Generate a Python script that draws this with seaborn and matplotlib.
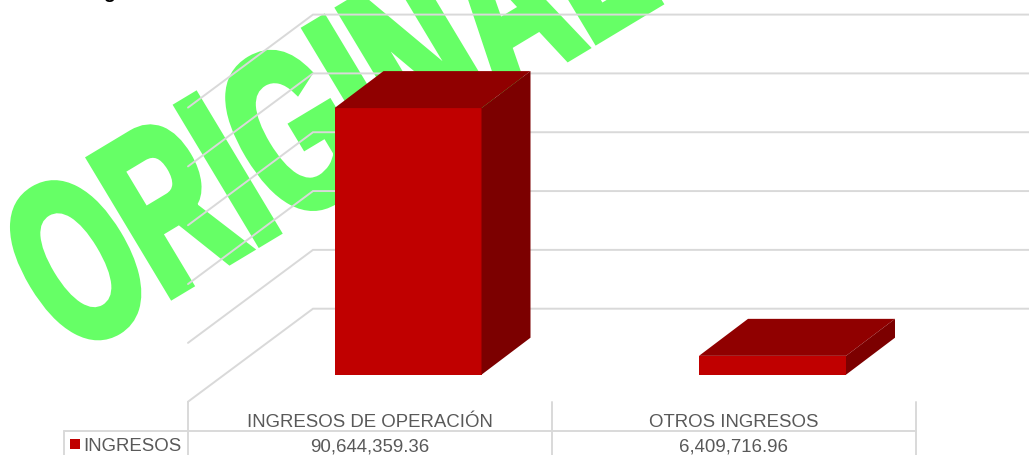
import matplotlib
import seaborn as sns
matplotlib.use("Agg")
import matplotlib.pyplot as plt
import matplotlib.patheffects as pe
from matplotlib.patches import Polygon
from matplotlib.transforms import Affine2D

# data
categories = ["INGRESOS DE OPERACIÓN", "OTROS INGRESOS"]
ingresos = [90644359.36, 6409716.96]
value_labels = ["90,644,359.36", "6,409,716.96"]
series_name = "INGRESOS"
grid_values = [0, 20000000, 40000000, 60000000, 80000000, 100000000]

W, H = 1029, 456
FRONT, TOP, SIDE = "#C00000", "#900000", "#7C0000"
GRID = "#D9D9D9"
TXT = "#595959"
STAMP = "#66FF66"

# pixel scales of the plot
CAT_PX = 364.5
FIRST_PX = 408
BASE_PX = 375.7
VALUE_PX = 266.6 / 90644359.36
DEPTH_X, DEPTH_Y = 49 / CAT_PX, 37 / VALUE_PX
STAMP_X, STAMP_Y = 70, 358


class Squeeze(pe.AbstractPathEffect):
    # wordart style text: narrow along the baseline, thickened, then turned
    def __init__(self, x0, y0, sx, angle, stroke):
        self.extra = Affine2D().translate(-x0, -y0).scale(sx, 1).rotate_deg(angle).translate(x0, y0)
        self.stroke = stroke

    def draw_path(self, renderer, gc, tpath, affine, rgbFace=None):
        gc0 = renderer.new_gc()
        gc0.copy_properties(gc)
        gc0.set_linewidth(self.stroke)
        gc0.set_foreground(STAMP)
        gc0.set_joinstyle("miter")
        renderer.draw_path(gc0, tpath, affine + self.extra, rgbFace)
        gc0.restore()


sns.set_theme(style="white", rc={"axes.unicode_minus": False})
plt.rcParams["font.family"] = ["Liberation Sans", "DejaVu Sans"]

fig = plt.figure(figsize=(W / 100, H / 100), dpi=100)
ax = fig.add_axes([0, 0, 1, 1])

# pixels from the top left, for the table and the stamp
px = Affine2D().scale(1, -1).translate(0, H)


def cat_x(p):
    return (p - FIRST_PX) / CAT_PX


# stamp behind everything
ax.text(STAMP_X, STAMP_Y, "ORIGINAL", transform=px, color=STAMP, fontsize=167, fontweight="bold",
        ha="left", va="baseline", zorder=0.5,
        path_effects=[Squeeze(STAMP_X, H - STAMP_Y, 0.61, 31, 5.5)])

# title cut off by the top edge, only the tail of the g shows
ax.text(109, -2, "g", transform=px, color="black", fontsize=14, fontweight="bold",
        ha="center", va="baseline", zorder=1, clip_on=False)

# back wall and side wall gridlines
wall_up = (BASE_PX - 309.7) / VALUE_PX
wall_down = 93 / VALUE_PX
for v in grid_values:
    ax.plot([cat_x(188), cat_x(313), cat_x(W)],
            [v + wall_up - wall_down, v + wall_up, v + wall_up],
            color=GRID, lw=1.4, zorder=1, solid_joinstyle="miter")

sns.barplot(x=categories, y=ingresos, color=FRONT, saturation=1, width=147 / CAT_PX,
            ax=ax, zorder=3, linewidth=0)
ax.set_xlim(-FIRST_PX / CAT_PX, (W - FIRST_PX) / CAT_PX)
ax.set_ylim((BASE_PX - H) / VALUE_PX, BASE_PX / VALUE_PX)

# 3d top and side of each bar
for bar in ax.patches[:]:
    x0, x1, h = bar.get_x(), bar.get_x() + bar.get_width(), bar.get_height()
    ax.add_patch(Polygon([(x0, h), (x1, h), (x1 + DEPTH_X, h + DEPTH_Y), (x0 + DEPTH_X, h + DEPTH_Y)],
                         facecolor=TOP, edgecolor="none", zorder=3))
    ax.add_patch(Polygon([(x1, 0), (x1 + DEPTH_X, DEPTH_Y), (x1 + DEPTH_X, h + DEPTH_Y), (x1, h)],
                         facecolor=SIDE, edgecolor="none", zorder=3))

# data table under the plot
for x in [188, 552, 916]:
    ax.plot([x, x], [402.7, H], transform=px, color=GRID, lw=1.4, zorder=1)
ax.plot([64, 916], [431.7, 431.7], transform=px, color=GRID, lw=1.4, zorder=1)
ax.plot([64, 64], [431.7, H], transform=px, color=GRID, lw=1.4, zorder=1)
for cx, cat, val in zip([370, 734], categories, value_labels):
    ax.text(cx, 427, cat, transform=px, color=TXT, fontsize=13.4, ha="center", va="baseline")
    ax.text(cx, 452, val, transform=px, color=TXT, fontsize=13.4, ha="center", va="baseline")
ax.text(83.5, 451, series_name, transform=px, color=TXT, fontsize=13.4, ha="left", va="baseline")
ax.add_patch(Polygon([(70, 440), (80, 440), (80, 450), (70, 450)], transform=px,
                     facecolor=FRONT, edgecolor="none", zorder=3))

ax.set_xticks([])
ax.set_yticks([])
ax.set_xlabel("")
ax.set_ylabel("")
sns.despine(ax=ax, left=True, bottom=True)
ax.patch.set_alpha(0)

fig.savefig("out.png", dpi=100)
